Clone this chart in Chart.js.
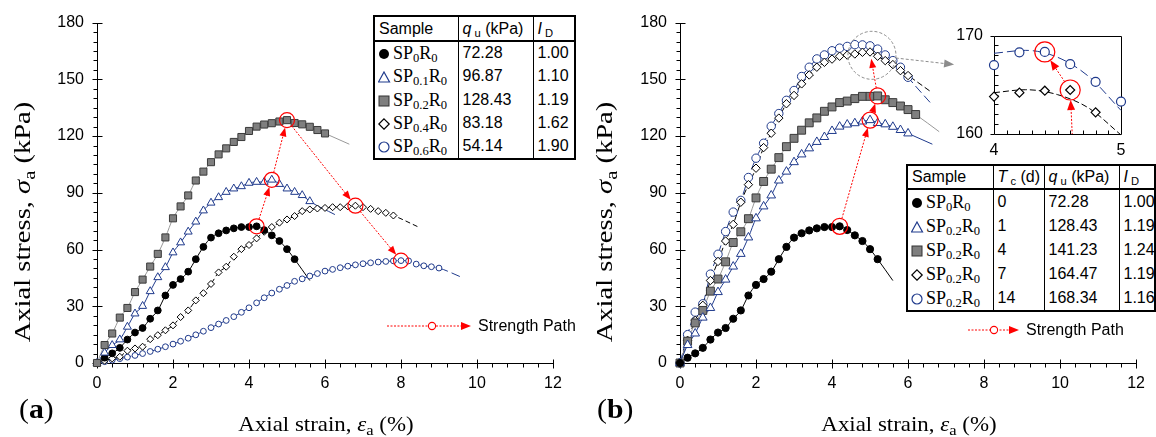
<!DOCTYPE html>
<html><head><meta charset="utf-8">
<script src="https://cdn.jsdelivr.net/npm/chart.js@4.4.1/dist/chart.umd.min.js"></script>
<style>
html,body{margin:0;padding:0;background:#fff}
body{width:1156px;height:437px;position:relative;overflow:hidden;font-family:"Liberation Sans",Arial,sans-serif;color:#000}
canvas{position:absolute}
.tb{position:absolute;border-collapse:collapse;table-layout:fixed;background:#fff;border:2px solid #000;font-size:16px}
.tb td{border-left:1.5px solid #000;border-right:1.5px solid #000;padding:0 0 0 4px;white-space:nowrap;overflow:hidden;line-height:1}
.tb tr.hd td{border-bottom:2px solid #000}
.tb td.s{font-family:"Liberation Serif","Times New Roman",serif;font-size:18px;padding-left:3px}
.tb sub{font-size:70%;vertical-align:-0.25em;line-height:0}
.mk{display:inline-block;width:15px;vertical-align:-1px}
.ttl{position:absolute;font-family:"Liberation Serif",serif;font-size:21px;white-space:nowrap;transform:translate(-50%,-50%) scaleX(1.09)}
.ttl sub{font-size:72%;vertical-align:-0.3em;line-height:0}
.rot{font-size:24px;transform:translate(-50%,-50%) rotate(-90deg) scaleX(1.19)}
.lab{position:absolute;font-family:"Liberation Serif",serif;font-size:27px;line-height:1;transform:scaleX(1.1);transform-origin:0 50%}
.sp{position:absolute;display:flex;align-items:center;font-size:16px;height:18px}
.sp svg{margin-right:7px}
</style>
</head>
<body>
<canvas id="ca" width="578" height="437" style="left:0;top:0;width:578px;height:437px"></canvas>
<canvas id="cb" width="578" height="437" style="left:578px;top:0;width:578px;height:437px"></canvas>
<canvas id="ci" width="185" height="150" style="left:950px;top:15px;width:185px;height:150px"></canvas>

<table class="tb" style="left:373px;top:15px;width:201px">
<colgroup><col style="width:84px"><col style="width:75px"><col style="width:42px"></colgroup>
<tr class="hd" style="height:25px"><td>Sample</td><td><i>q</i><sub> u</sub> (kPa)</td><td><i>I</i><sub> D</sub></td></tr>
<tr style="height:23.5px"><td class="s"><svg class="mk" width="13" height="12"><circle cx="6" cy="6" r="5" fill="#000"/></svg>SP<sub>0</sub>R<sub>0</sub></td><td>72.28</td><td>1.00</td></tr>
<tr style="height:23.5px"><td class="s"><svg class="mk" width="13" height="12"><polygon points="6,1 11.5,11 0.5,11" fill="#fff" stroke="#1f3a8c" stroke-width="1.2"/></svg>SP<sub>0.1</sub>R<sub>0</sub></td><td>96.87</td><td>1.10</td></tr>
<tr style="height:23.5px"><td class="s"><svg class="mk" width="13" height="12"><rect x="1" y="1" width="10" height="10" fill="#7f7f7f" stroke="#333"/></svg>SP<sub>0.2</sub>R<sub>0</sub></td><td>128.43</td><td>1.19</td></tr>
<tr style="height:23.5px"><td class="s"><svg class="mk" width="13" height="12"><polygon points="6,0.8 11.2,6 6,11.2 0.8,6" fill="#fff" stroke="#000" stroke-width="1.2"/></svg>SP<sub>0.4</sub>R<sub>0</sub></td><td>83.18</td><td>1.62</td></tr>
<tr style="height:23.5px"><td class="s"><svg class="mk" width="13" height="12"><circle cx="6" cy="6" r="5" fill="#fff" stroke="#1f3a8c" stroke-width="1.2"/></svg>SP<sub>0.6</sub>R<sub>0</sub></td><td>54.14</td><td>1.90</td></tr>
</table>

<table class="tb" style="left:906px;top:164px;width:248px">
<colgroup><col style="width:86px"><col style="width:51px"><col style="width:75px"><col style="width:36px"></colgroup>
<tr class="hd" style="height:24px"><td>Sample</td><td><i>T</i><sub> c</sub> (d)</td><td><i>q</i><sub> u</sub> (kPa)</td><td><i>I</i><sub> D</sub></td></tr>
<tr style="height:24.4px"><td class="s"><svg class="mk" width="13" height="12"><circle cx="6" cy="6" r="5" fill="#000"/></svg>SP<sub>0</sub>R<sub>0</sub></td><td>0</td><td>72.28</td><td>1.00</td></tr>
<tr style="height:24.4px"><td class="s"><svg class="mk" width="13" height="12"><polygon points="6,1 11.5,11 0.5,11" fill="#fff" stroke="#1f3a8c" stroke-width="1.2"/></svg>SP<sub>0.2</sub>R<sub>0</sub></td><td>1</td><td>128.43</td><td>1.19</td></tr>
<tr style="height:24.4px"><td class="s"><svg class="mk" width="13" height="12"><rect x="1" y="1" width="10" height="10" fill="#7f7f7f" stroke="#333"/></svg>SP<sub>0.2</sub>R<sub>0</sub></td><td>4</td><td>141.23</td><td>1.24</td></tr>
<tr style="height:24.4px"><td class="s"><svg class="mk" width="13" height="12"><polygon points="6,0.8 11.2,6 6,11.2 0.8,6" fill="#fff" stroke="#000" stroke-width="1.2"/></svg>SP<sub>0.2</sub>R<sub>0</sub></td><td>7</td><td>164.47</td><td>1.19</td></tr>
<tr style="height:24.4px"><td class="s"><svg class="mk" width="13" height="12"><circle cx="6" cy="6" r="5" fill="#fff" stroke="#1f3a8c" stroke-width="1.2"/></svg>SP<sub>0.2</sub>R<sub>0</sub></td><td>14</td><td>168.34</td><td>1.16</td></tr>
</table>

<div class="sp" style="left:387px;top:317px"><svg width="84" height="14"><line x1="0" y1="7" x2="76" y2="7" stroke="#ff0000" stroke-width="1" stroke-dasharray="2,1.5"/><circle cx="45" cy="7" r="3.6" fill="#fff" stroke="#ff0000" stroke-width="1.1"/><polygon points="74,3 84,7 74,11" fill="#ff0000"/></svg><span>Strength Path</span></div>
<div class="sp" style="left:968px;top:321px"><svg width="51" height="14"><line x1="0" y1="7" x2="43" y2="7" stroke="#ff0000" stroke-width="1" stroke-dasharray="2,1.5"/><circle cx="26" cy="7" r="3.6" fill="#fff" stroke="#ff0000" stroke-width="1.1"/><polygon points="41,3 51,7 41,11" fill="#ff0000"/></svg><span>Strength Path</span></div>

<div class="ttl" style="left:326px;top:424px">Axial strain, <i>ε</i><sub>a</sub> (%)</div>
<div class="ttl" style="left:909px;top:424px">Axial strain, <i>ε</i><sub>a</sub> (%)</div>
<div class="ttl rot" style="left:22px;top:222px">Axial stress, <i>σ</i><sub>a</sub> (kPa)</div>
<div class="ttl rot" style="left:604px;top:222px">Axial stress, <i>σ</i><sub>a</sub> (kPa)</div>
<div class="lab" style="left:19px;top:396px">(<b>a</b>)</div>
<div class="lab" style="left:597px;top:396px">(<b>b</b>)</div>

<script>
// ---------------- data ----------------
const strainGrid = [0,0.2,0.4,0.6,0.8,1.0,1.2,1.4,1.6,1.8,2.0,2.2,2.4,2.6,2.8,3.0,3.2,3.4,3.6,3.8,4.0,4.2,4.4,4.6,4.8,5.0,5.2,5.4,5.6,5.8,6.0,6.2,6.4,6.6,6.8,7.0,7.2,7.4,7.6,7.8,8.0,8.2,8.4,8.6,8.8,9.0];

// SP0R0 (same sample in both panels)
const sp0Stress = [0,2.8,5.1,8.0,12.4,16.1,18.5,23.4,27.8,35.7,41.3,44.4,48.3,54.9,61.4,66.3,68.6,70.1,71.2,71.9,71.9,72.28,70.3,67.5,64.5,60.2,54.9];
const sp0Tail = [5.6, 43.6];
// SP0.1R0
const sp01Stress = [0,5.4,9.4,12.4,19.1,26.1,30.1,37.9,45.3,50.6,58.4,63.7,69.4,74.7,80.6,84.7,87.6,90.4,92.2,93.4,95.2,95.7,95.7,96.87,94.6,92.2,90.4,88.7,85.5];
const sp01Tail = [6.26, 78.5];
// SP0.2R0 (panel a) = SP0.2R0 Tc 1 d (panel b)
const sp02Stress = [0,9.5,15.6,24.0,29.1,37.5,44.1,51.0,57.7,66.4,76.5,82.8,88.6,96.5,101.2,106.2,110.3,113.5,116.9,119.5,122.7,125.0,126.1,126.8,127.7,128.43,126.9,126.2,124.9,123.2,121.4];
const sp02Tail = [6.64, 115.7];
// SP0.4R0
const sp04Stress = [0,1.2,2.4,3.3,6.5,7.7,8.6,12.6,14.7,17.3,19.9,24.3,27.8,33.1,36.9,41.8,47.9,50.9,56.2,60.2,62.4,65.9,69.4,71.9,74.2,75.9,77.7,80.3,81.2,81.7,82.0,82.4,82.4,82.8,83.18,82.4,81.5,80.3,79.4,78.0];
const sp04Tail = [8.46, 71.9];
// SP0.6R0
const sp06Stress = [0,0.7,1.5,2.3,3.1,4.0,5.0,6.1,7.3,8.6,10.0,11.5,13.1,14.9,16.8,18.7,20.6,22.5,24.5,26.8,29.2,31.8,34.5,37.0,39.0,41.0,43.2,44.5,46.0,47.3,48.6,49.5,50.4,51.2,51.9,52.5,53.0,53.4,53.7,54.0,54.14,54.0,52.3,51.4,50.9,50.2];
const sp06Tail = [9.6, 45.3];
// SP0.2R0 curing 4 d, 7 d, 14 d
const d4Stress = [0,11.5,21.2,27.8,38.0,44.4,53.5,63.7,69.4,76.3,87.3,96.0,102.5,108.6,114.4,118.8,123.1,127.0,129.6,133.1,135.4,137.7,138.5,139.8,141.0,141.0,141.23,139.2,137.7,135.9,134.0,131.4];
const d4Tail = [6.82, 122.3];
const d7Stress = [0,12.0,22.5,30.5,43.6,53.7,64.5,73.3,85.0,94.3,103.0,113.9,121.5,129.5,137.1,141.5,147.6,152.3,156.4,159.0,160.7,162.2,162.8,163.4,164.3,164.47,162.2,159.9,157.8,154.6,152.0];
const d7Tail = [6.61, 143.3];
const d14Stress = [0,15.0,26.9,31.3,47.0,57.5,69.5,79.8,86.0,98.1,108.3,116.2,125.2,131.9,138.9,144.1,151.5,156.4,160.8,162.9,165.1,166.5,167.4,168.34,168.2,167.7,166.0,162.9,159.9,156.4,151.1];
const d14Tail = [6.61, 137.1];

// strength paths (peaks)
const pathAStrain = [4.2,4.6,5.0,6.8,8.0];
const pathAStress = [72.28,96.87,128.43,83.18,54.14];
const pathBStrain = [4.2,5.0,5.2,5.0];
const pathBStress = [72.28,128.43,141.23,164.47];

// inset (zoom of the 7 d and 14 d peaks)
const insetStrain = [4.0,4.2,4.4,4.6,4.8,5.0];
const insetD14 = [167.0,168.3,168.34,167.1,165.3,163.3];
const insetD7 = [163.8,164.2,164.4,164.47,162.2];
const insetFitStrain = [4.0,4.25,4.5,4.75,5.0];
const insetFitD14 = [168.2,168.5,167.8,165.8,162.4];
const insetFitD7 = [164.2,164.5,164.0,162.6,159.9];
const insetPathStrain = [4.63,4.6,4.4];
const insetPathStress = [156,164.47,168.34];

// tick labels
const xTicksMain = [0,2,4,6,8,10,12];
const yTicksMain = [0,30,60,90,120,150,180];
const xTicksInset = [4,5];
const yTicksInset = [160,170];

// ---------------- helpers ----------------
const NAVY = '#1f3a8c', RED = '#ff0000', GRAY = '#999999';
const FONT = {family:'"Liberation Sans", Arial, sans-serif', size:16};
function xy(xs, ys){ return ys.map((v,i)=>({x:xs[i], y:v})); }
function lineDs(xs, ys, tail, color, dash){
  const d = xy(xs, ys); if (tail) d.push({x:tail[0], y:tail[1]});
  return {data:d, showLine:true, borderColor:color, borderWidth:1, borderDash:dash||[], pointRadius:0,
          tension:0.4, cubicInterpolationMode:'monotone', clip:false, order:3};
}
function markDs(xs, ys, style, r, bg, bc, bw){
  return {data:xy(xs, ys), showLine:false, pointStyle:style, pointRadius:r, pointHoverRadius:r,
          backgroundColor:bg, borderColor:bc, pointBackgroundColor:bg, pointBorderColor:bc,
          pointBorderWidth:bw||1, clip:false, order:2};
}
function pathCircles(xs, ys, radii){
  return {data:xy(xs, ys), showLine:false, pointStyle:'circle', pointRadius:radii, pointHoverRadius:radii,
          pointBackgroundColor:'rgba(0,0,0,0)', pointBorderColor:RED, pointBorderWidth:1.2, clip:false, order:1};
}
function arrowHead(ctx, x1, y1, x2, y2, len, w, color){
  const a = Math.atan2(y2-y1, x2-x1), c = Math.cos(a), s = Math.sin(a);
  ctx.save(); ctx.fillStyle = color; ctx.setLineDash([]); ctx.beginPath();
  ctx.moveTo(x2, y2);
  ctx.lineTo(x2 - len*c + w/2*s, y2 - len*s - w/2*c);
  ctx.lineTo(x2 - len*c - w/2*s, y2 - len*s + w/2*c);
  ctx.closePath(); ctx.fill(); ctx.restore();
}

const axesPlugin = {
  id:'axes',
  beforeDatasetsDraw(chart, args, o){
    if (!o || !o.on) return;
    const {ctx, chartArea:a, scales:{x, y}} = chart;
    const L = Math.round(a.left)+0.5, B = Math.round(a.bottom)+0.5, T = Math.round(a.top)+0.5, R = Math.round(a.right)+0.5;
    ctx.save(); ctx.strokeStyle = '#000'; ctx.lineWidth = 1; ctx.beginPath();
    if (o.box) ctx.rect(L, T, R-L, B-T); else { ctx.moveTo(L, T); ctx.lineTo(L, B); ctx.lineTo(R, B); }
    const nx = Math.round((x.max - x.min)/o.xMinor), kx = Math.round(o.xMajor/o.xMinor);
    for (let i=0;i<=nx;i++){
      const px = Math.round(x.getPixelForValue(x.min + i*o.xMinor))+0.5;
      if (i%kx===0){ if (o.xMaj){ ctx.moveTo(px, B-o.xMaj[0]); ctx.lineTo(px, B+o.xMaj[1]); } }
      else { ctx.moveTo(px, B-o.xMin[0]); ctx.lineTo(px, B+o.xMin[1]); }
    }
    const ny = Math.round((y.max - y.min)/o.yMinor), ky = Math.round(o.yMajor/o.yMinor);
    for (let i=0;i<=ny;i++){
      const py = Math.round(y.getPixelForValue(y.min + i*o.yMinor))+0.5;
      if (i%ky===0){ if (o.yMaj){ ctx.moveTo(L-o.yMaj[1], py); ctx.lineTo(L+o.yMaj[0], py); } }
      else { ctx.moveTo(L-o.yMin[1], py); ctx.lineTo(L+o.yMin[0], py); }
    }
    ctx.stroke(); ctx.restore();
  }
};

const pathPlugin = {
  id:'spath',
  afterDatasetsDraw(chart, args, o){
    if (!o || !o.xs) return;
    const {ctx, chartArea:a, scales:{x, y}} = chart;
    ctx.save();
    if (o.clip){ ctx.beginPath(); ctx.rect(a.left, a.top, a.right-a.left, a.bottom-a.top); ctx.clip(); }
    ctx.strokeStyle = RED; ctx.lineWidth = 1;
    for (let i=0;i<o.xs.length-1;i++){
      const x1 = x.getPixelForValue(o.xs[i]), y1 = y.getPixelForValue(o.ys[i]);
      const x2 = x.getPixelForValue(o.xs[i+1]), y2 = y.getPixelForValue(o.ys[i+1]);
      const dx = x2-x1, dy = y2-y1, L = Math.hypot(dx, dy), ux = dx/L, uy = dy/L;
      const r1 = o.r[i] || 0, r2 = o.r[i+1] || o.gap;
      const sx = x1+ux*r1, sy = y1+uy*r1, ex = x2-ux*r2, ey = y2-uy*r2;
      ctx.setLineDash([2,1.5]); ctx.beginPath(); ctx.moveTo(sx, sy); ctx.lineTo(ex-ux*6, ey-uy*6); ctx.stroke();
      arrowHead(ctx, sx, sy, ex, ey, o.head[0], o.head[1], RED);
    }
    if (o.zoom){
      const cx = x.getPixelForValue(o.zoom.x), cy = y.getPixelForValue(o.zoom.y), r = o.zoom.r;
      const tx = a.right + o.zoom.to[0], ty = a.top + o.zoom.to[1];
      ctx.strokeStyle = '#8c8c8c'; ctx.setLineDash([3,2]);
      ctx.beginPath(); ctx.arc(cx, cy, r, 0, Math.PI*2); ctx.stroke();
      const dx = tx-cx, dy = ty-cy, L = Math.hypot(dx, dy), ux = dx/L, uy = dy/L;
      ctx.beginPath(); ctx.moveTo(cx+ux*r, cy+uy*r); ctx.lineTo(tx-ux*8, ty-uy*8); ctx.stroke();
      arrowHead(ctx, cx, cy, tx, ty, 10, 8, '#8c8c8c');
    }
    ctx.restore();
  }
};

function baseOptions(cfg){
  return {
    responsive:false, animation:false, devicePixelRatio:1, events:[],
    layout:{padding:cfg.pad},
    plugins:{legend:{display:false}, tooltip:{enabled:false}, axes:cfg.axes, spath:cfg.path},
    scales:{
      x:{type:'linear', min:cfg.xr[0], max:cfg.xr[1],
         afterBuildTicks:s=>{ s.ticks = cfg.xt.map(v=>({value:v})); },
         ticks:{font:FONT, color:'#000', padding:cfg.xpad, maxRotation:0, autoSkip:false},
         grid:{display:false, drawTicks:false}, border:{display:false},
         afterFit:s=>{ s.height = cfg.xh; }},
      y:{type:'linear', min:cfg.yr[0], max:cfg.yr[1],
         afterBuildTicks:s=>{ s.ticks = cfg.yt.map(v=>({value:v})); },
         ticks:{font:FONT, color:'#000', padding:cfg.ypad, autoSkip:false},
         grid:{display:false, drawTicks:false}, border:{display:false},
         afterFit:s=>{ s.width = cfg.yw; }}
    }
  };
}
const mainAxes = {on:true, box:false, xMajor:2, xMinor:0.4, yMajor:30, yMinor:5,
                  xMaj:[4,5], xMin:[0,4], yMaj:[5,5], yMin:[0,4]};

// ---------------- panel (a) ----------------
new Chart(document.getElementById('ca'), {
  type:'scatter',
  data:{datasets:[
    lineDs(strainGrid, sp02Stress, sp02Tail, GRAY),
    lineDs(strainGrid, sp01Stress, sp01Tail, NAVY),
    lineDs(strainGrid, sp0Stress, sp0Tail, '#000'),
    lineDs(strainGrid, sp04Stress, sp04Tail, '#000', [5,3]),
    lineDs(strainGrid, sp06Stress, sp06Tail, NAVY, [9,4]),
    markDs(strainGrid, sp02Stress, 'rect', 5, '#7f7f7f', '#3a3a3a'),
    markDs(strainGrid, sp01Stress, 'triangle', 4.6, '#fff', NAVY),
    markDs(strainGrid, sp0Stress, 'circle', 3.4, '#000', '#000'),
    markDs(strainGrid, sp04Stress, 'rectRot', 3.5, '#fff', '#000'),
    markDs(strainGrid, sp06Stress, 'circle', 2.9, '#fff', NAVY),
    pathCircles(pathAStrain, pathAStress, [7.5,7.5,7.5,7.5,7.5])
  ]},
  options:baseOptions({pad:{left:0,right:25,top:20,bottom:0}, xr:[0,12], yr:[0,180], xt:xTicksMain, yt:yTicksMain,
    xh:74, yw:97, xpad:11, ypad:13, axes:mainAxes,
    path:{xs:pathAStrain, ys:pathAStress, r:[7.5,7.5,7.5,7.5,7.5], gap:7.5, head:[9,7]}}),
  plugins:[axesPlugin, pathPlugin]
});

// ---------------- panel (b) ----------------
new Chart(document.getElementById('cb'), {
  type:'scatter',
  data:{datasets:[
    lineDs(strainGrid, sp0Stress, sp0Tail, '#000'),
    lineDs(strainGrid, sp02Stress, sp02Tail, NAVY),
    lineDs(strainGrid, d4Stress, d4Tail, GRAY),
    lineDs(strainGrid, d7Stress, d7Tail, '#000', [6,3]),
    lineDs(strainGrid, d14Stress, d14Tail, NAVY, [9,4]),
    markDs(strainGrid, sp0Stress, 'circle', 3.6, '#000', '#000'),
    markDs(strainGrid, sp02Stress, 'triangle', 5, '#fff', NAVY),
    markDs(strainGrid, d4Stress, 'rect', 5.6, '#7f7f7f', '#3a3a3a'),
    markDs(strainGrid, d7Stress, 'rectRot', 4.2, '#fff', '#000'),
    markDs(strainGrid, d14Stress, 'circle', 4.2, '#fff', NAVY),
    pathCircles(pathBStrain, pathBStress, [8,8,8,0])
  ]},
  options:baseOptions({pad:{left:0,right:19,top:20,bottom:0}, xr:[0,12], yr:[0,180], xt:xTicksMain, yt:yTicksMain,
    xh:74, yw:102, xpad:11, ypad:13, axes:mainAxes,
    path:{xs:pathBStrain, ys:pathBStress, r:[8,8,8,0], gap:7, head:[9,7],
          zoom:{x:5.05, y:162.7, r:24, to:[-182, 42]}}}),
  plugins:[axesPlugin, pathPlugin]
});

// ---------------- inset ----------------
new Chart(document.getElementById('ci'), {
  type:'scatter',
  data:{datasets:[
    lineDs(insetFitStrain, insetFitD14, null, NAVY, [9,4]),
    lineDs(insetFitStrain, insetFitD7, null, '#000', [6,3]),
    markDs(insetStrain, insetD14, 'circle', 4.5, '#fff', NAVY, 1.2),
    markDs(insetStrain, insetD7, 'rectRot', 4.5, '#fff', '#000', 1.2),
    pathCircles(insetPathStrain, insetPathStress, [0,10,10])
  ]},
  options:baseOptions({pad:{left:0,right:14,top:13,bottom:0}, xr:[4,5], yr:[160,170], xt:xTicksInset, yt:yTicksInset,
    xh:31, yw:44, xpad:7, ypad:11,
    axes:{on:true, box:true, xMajor:1, xMinor:0.1, yMajor:10, yMinor:1, xMaj:null, xMin:[4,0], yMaj:[0,4], yMin:[4,0]},
    path:{xs:insetPathStrain, ys:insetPathStress, r:[0,10,10], gap:10, head:[10,8], clip:true}}),
  plugins:[axesPlugin, pathPlugin]
});
</script>
</body></html>
